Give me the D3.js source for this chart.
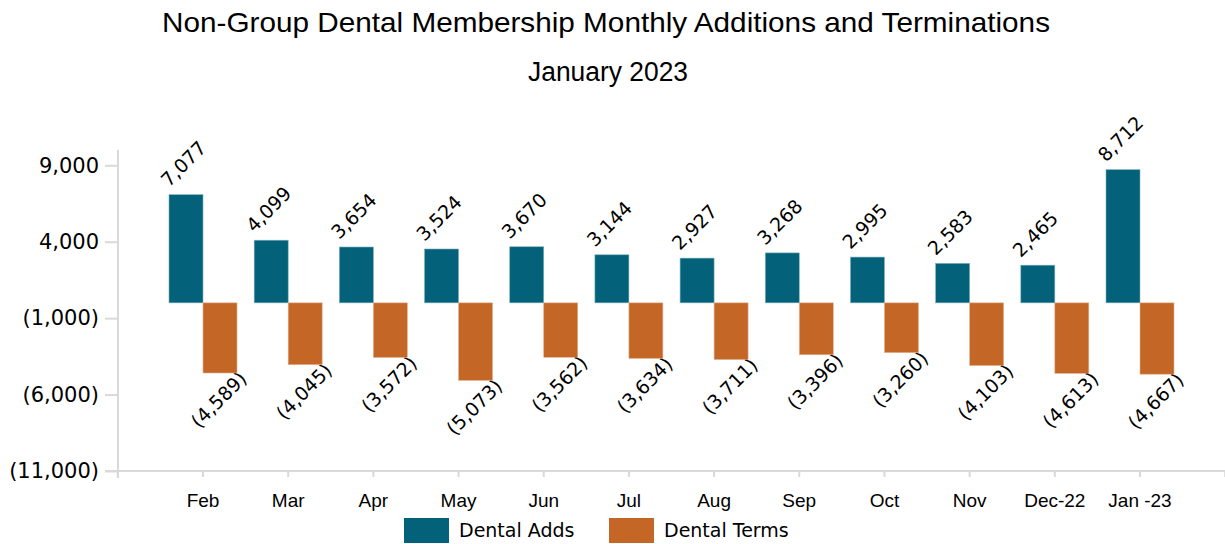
<!DOCTYPE html>
<html><head><meta charset="utf-8">
<script src="https://cdn.jsdelivr.net/npm/d3@7/dist/d3.min.js"></script>
<style>body{margin:0;background:#fff}svg{display:block}</style>
</head><body><svg id="c" width="1225" height="544"></svg>
<script>
const categories = ["Feb","Mar","Apr","May","Jun","Jul","Aug","Sep","Oct","Nov","Dec-22","Jan -23"];
const addsValues = [7077,4099,3654,3524,3670,3144,2927,3268,2995,2583,2465,8712];
const termsValues = [-4589,-4045,-3572,-5073,-3562,-3634,-3711,-3396,-3260,-4103,-4613,-4667];
const yTicks = [9000,4000,-1000,-6000,-11000];
const seriesNames = ["Dental Adds","Dental Terms"];
const colors = ["#03627A","#C46726"];

const svg = d3.select("#c");
const fmt = v => v < 0 ? "(" + d3.format(",")(-v) + ")" : d3.format(",")(v);

const y = d3.scaleLinear().domain([-11000, 10000]).range([471, 150]);
const x = d3.scalePoint().domain(categories).range([203, 1140]);
const step = x.step();
const bw = 34;

// title
svg.append("text").attr("x", 162).attr("y", 32)
  .attr("textLength", 888).attr("lengthAdjust","spacingAndGlyphs")
  .style("font-family","'Liberation Sans',Arial").style("font-size","28px").attr("fill","#000")
  .text("Non-Group Dental Membership Monthly Additions and Terminations");
svg.append("text").attr("x", 528).attr("y", 81)
  .attr("textLength", 160).attr("lengthAdjust","spacingAndGlyphs")
  .style("font-family","'Liberation Sans',Arial").style("font-size","27px").attr("fill","#000")
  .text("January 2023");

// y axis
const yAxis = svg.append("g").attr("transform","translate(118,0)")
  .call(d3.axisLeft(y).tickValues(yTicks).tickFormat(fmt).tickSize(13).tickPadding(6));
yAxis.select(".domain").remove();
yAxis.append("line").attr("x1",0).attr("x2",0).attr("y1",150).attr("y2",y(-11000)+7).attr("stroke","#d9d9d9").attr("stroke-width",2);
yAxis.selectAll(".tick line").attr("stroke","#d9d9d9").attr("stroke-width",2);
yAxis.selectAll(".tick text").style("font-family","'DejaVu Sans'").style("font-size","21px").attr("fill","#000");

// x axis
const xTickPos = [x(categories[0]) - step].concat(categories.map(c => x(c))).concat([x(categories[categories.length-1]) + step]);
const xg = svg.append("g");
xg.append("line").attr("x1",105).attr("x2",1225).attr("y1",471).attr("y2",471).attr("stroke","#d9d9d9").attr("stroke-width",2);
xg.selectAll("line.t").data(xTickPos).join("line").attr("class","t")
  .attr("x1",d=>d).attr("x2",d=>d).attr("y1",471).attr("y2",477).attr("stroke","#d9d9d9").attr("stroke-width",2);
xg.selectAll("text").data(categories).join("text")
  .attr("x", d => x(d)).attr("y", 507).attr("text-anchor","middle")
  .style("font-family","'Liberation Sans',Arial").style("font-size","19px").attr("fill","#000")
  .text(d => d);

// bars
const g = svg.append("g");
g.selectAll("rect.adds").data(addsValues).join("rect").attr("class","adds")
  .attr("x",(d,i)=>x(categories[i]) - bw).attr("width",bw)
  .attr("y",d=>y(d)).attr("height",d=>y(0)-y(d))
  .attr("fill",colors[0]).attr("stroke","#7fb0bc").attr("stroke-width",0.6);
g.selectAll("rect.terms").data(termsValues).join("rect").attr("class","terms")
  .attr("x",(d,i)=>x(categories[i])).attr("width",bw)
  .attr("y",y(0)).attr("height",d=>y(d)-y(0))
  .attr("fill",colors[1]).attr("stroke","#e2b393").attr("stroke-width",0.6);

// labels
g.selectAll("text.la").data(addsValues).join("text").attr("class","la")
  .attr("transform",(d,i)=>`translate(${x(categories[i]) - bw},${y(d) - 7}) rotate(-45)`)
  .style("font-family","'DejaVu Sans'").style("font-size","19px").attr("fill","#000")
  .text(fmt);
g.selectAll("text.lt").data(termsValues).join("text").attr("class","lt")
  .attr("transform",(d,i)=>`translate(${x(categories[i]) + bw + 11},${y(d) + 7}) rotate(-45)`)
  .attr("text-anchor","end")
  .style("font-family","'DejaVu Sans'").style("font-size","19px").attr("fill","#000")
  .text(fmt);

// legend
const legX = [404, 609];
const lg = svg.append("g");
seriesNames.forEach((n,i)=>{
  lg.append("rect").attr("x",legX[i]).attr("y",518).attr("width",45).attr("height",25).attr("fill",colors[i]);
  lg.append("text").attr("x",legX[i]+55).attr("y",537).style("font-family","'DejaVu Sans'").style("font-size","19px").attr("fill","#000").text(n);
});
</script></body></html>
